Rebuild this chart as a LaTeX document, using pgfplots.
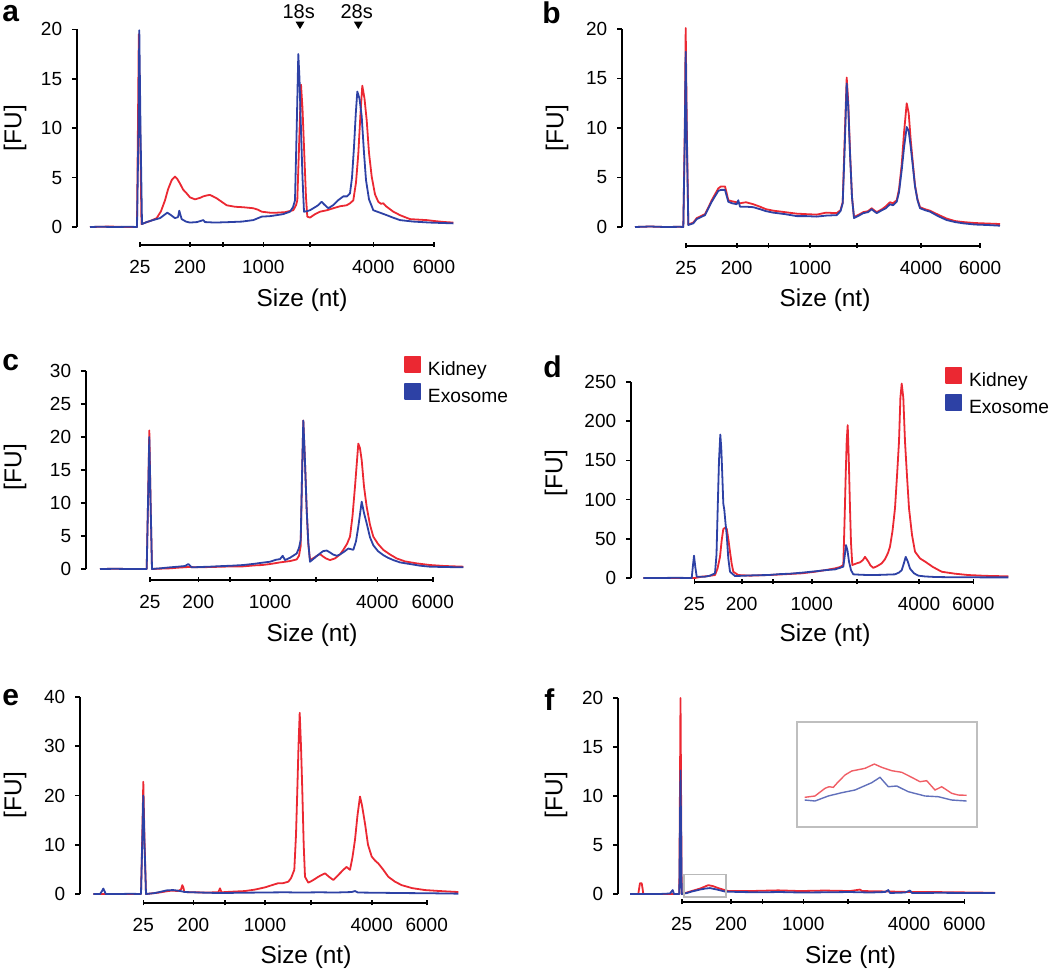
\documentclass[border=0pt]{standalone}
\usepackage{fontspec}
\setmainfont{Liberation Sans}
\usepackage{pgfplots}
\pgfplotsset{compat=1.18}
\definecolor{kred}{RGB}{235,40,50}
\definecolor{kblue}{RGB}{45,65,165}
\pgfplotsset{
  bio/.style={
    scale only axis, clip=false, anchor=south west,
    axis x line=bottom, axis y line=left,
    axis line style={draw=none},
    tick align=outside,
    major tick length=2.5pt,
    tick style={black, line width=0.8pt},
    xtick style={yshift=1.5pt},
    xticklabel style={font=\fontsize{9.5}{11}\selectfont, yshift=-1.6pt},
    yticklabel style={font=\fontsize{9.5}{11}\selectfont, xshift=-1.4pt},
    /pgf/number format/assume math mode=true,
    xticklabels={25,200,,1000,,4000,6000},
    every axis plot/.append style={line width=0.9pt, line join=round},
  },
  legsq/.style={
    legend style={at={(rel axis cs:#1)}, anchor=north west, draw=none, fill=none,
      inner sep=0pt, outer sep=0pt, font=\fontsize{9.6}{10}\selectfont,
      row sep=1.5pt, column sep=2.5pt, nodes={inner sep=0.8pt}},
    legend cell align=left,
    legend image code/.code={\fill[##1] (0pt,-1pt) rectangle (7.8pt,6.6pt);},
  },
}
\begin{document}
\begin{tikzpicture}
\path[use as bounding box] (0,0) rectangle (525pt,-485.5pt);
% ---------------- a
\begin{axis}[bio, at={(38.5pt,-122.5pt)}, width=189pt, height=107.85pt,
  xmin=77, xmax=455, ymin=-1.82, ymax=20, ytick={0,5,10,15,20},
  xtick={140,190,222.7,263.3,310,373.3,434}]
\addplot[kred] coordinates {(90,0)(110,0.05)(125,0)(137,0)(138.8,19.5)(141.5,0.3)(143.3,0.37)(150,0.6)(156.7,0.9)(161,1.6)(165,2.7)(168,3.8)(171.7,4.75)(175,5.1)(177,4.9)(180,4.4)(183,3.8)(186.7,3.4)(190,3.0)(195,2.8)(200,2.95)(203.3,3.1)(207,3.2)(210,3.25)(213,3.1)(216.7,2.9)(221,2.6)(226.7,2.2)(235,2.05)(243.3,2.0)(253.3,1.9)(258,1.75)(261.7,1.55)(270,1.45)(276.7,1.45)(285,1.5)(293.3,1.7)(296,2.2)(297.3,2.7)(299,8)(301,14.4)(302.5,12)(304,8.1)(306,3)(307.3,1.05)(310,0.95)(315,1.3)(320,1.55)(327,1.7)(333.3,1.9)(340,2.1)(346.7,2.2)(350,2.4)(353.3,2.7)(356,4.5)(358.3,7.4)(360.5,11.5)(362.3,14.3)(364.5,13)(366.7,10.8)(369,7.5)(371.7,5.1)(375,3.3)(378.3,2.55)(381,2.35)(383.3,2.4)(386,2.1)(390,1.8)(393.3,1.55)(400,1.2)(410,0.8)(418,0.75)(426.7,0.7)(435,0.6)(445,0.5)(453.3,0.45)};
\addplot[kblue] coordinates {(90,0)(100,0.03)(115,0)(130,0.03)(137,0)(138.5,10)(139.3,19.9)(140.5,10)(142,0.3)(146.7,0.5)(153,0.7)(160,0.9)(164,1.2)(167.3,1.45)(171,1.2)(175,0.9)(178,1.0)(179.3,1.65)(180.5,1.2)(181.7,0.8)(186,0.55)(190,0.45)(197,0.5)(203.3,0.7)(205,0.5)(215,0.45)(230,0.5)(242,0.55)(253.3,0.7)(261.7,1.05)(270,1.1)(276.7,1.2)(283,1.3)(290,1.55)(293,2.0)(295,2.7)(296.7,10)(298.3,17.5)(299.5,15)(300.7,10.8)(302.5,5)(304,1.55)(307,1.6)(310,1.7)(315,2.0)(318,2.2)(321.7,2.55)(324,2.3)(328.3,1.9)(333,2.2)(338,2.7)(343.3,3.1)(347,3.1)(350,3.4)(352,5)(354,8.1)(355.8,11.5)(357.3,13.7)(359.5,13)(361.7,11.2)(364,7.5)(366,4.75)(369,2.8)(373.3,1.7)(380,1.45)(386.7,1.2)(393,0.95)(400,0.7)(413.3,0.55)(430,0.45)(453.3,0.37)};
\draw[line width=0.9pt] (axis cs:77,0) -- (axis cs:77,20);
\draw[line width=0.9pt] (axis cs:140,-1.82) -- (axis cs:434,-1.82);
\end{axis}
% ---------------- b
\begin{axis}[bio, at={(311pt,-123pt)}, width=189pt, height=108.5pt,
  xmin=622, xmax=1000, ymin=-1.92, ymax=20, ytick={0,5,10,15,20},
  xtick={686,736.7,768.3,810,856.7,921,980}]
\addplot[kred] coordinates {(635,0)(650,0.05)(665,0)(680,0.02)(683.3,0)(684.8,10)(685.7,20.1)(686.8,10)(688.3,0.25)(693.3,0.45)(696.7,0.9)(700,1.05)(705,1.3)(708,1.9)(711.7,2.7)(715,3.3)(718.3,3.9)(721,4.1)(725,4.1)(726.5,3.5)(728.3,2.7)(732,2.6)(736.7,2.5)(740,2.4)(746,2.5)(753.3,2.3)(760,2.05)(766,1.8)(773.3,1.65)(785,1.5)(796.7,1.35)(806,1.3)(816.7,1.25)(826,1.45)(836.7,1.4)(840.5,1.7)(842.7,2.5)(844.7,9)(846.7,15.1)(848.3,12.5)(850,7.6)(852,3)(854,1.0)(858,1.2)(863.3,1.5)(868,1.6)(871.7,1.9)(874,1.7)(876.7,1.5)(882,1.8)(886,2.1)(890,2.5)(893,2.4)(896.7,2.7)(899,3.8)(901.7,6.3)(904,9.5)(906.7,12.5)(908.7,11.5)(910.7,8.8)(913,6.3)(915,4.2)(917.5,2.8)(920,2.0)(925,1.8)(930,1.65)(938,1.25)(946.7,0.85)(955,0.6)(963.3,0.5)(975,0.4)(988,0.35)(1000,0.3)};
\addplot[kblue] coordinates {(635,0)(650,0.05)(665,0)(680,0.02)(683.3,0)(684.8,9)(685.7,17.7)(686.8,9)(688.3,0.2)(693.3,0.37)(696.7,0.8)(700,0.95)(705,1.2)(708,1.8)(711.7,2.55)(715,3.1)(718.3,3.65)(721,3.75)(725,3.75)(726.5,3.2)(728.3,2.55)(732,2.4)(736.7,2.3)(738.3,2.7)(740,2.05)(746,2.05)(753.3,2.0)(760,1.8)(766,1.6)(773.3,1.45)(785,1.3)(796.7,1.1)(806,1.1)(816.7,1.05)(826,1.15)(836.7,1.2)(840.5,1.6)(842.7,2.4)(844.7,8)(846.7,14.5)(848.3,12)(850,7.4)(852,3)(854,0.9)(858,1.1)(863.3,1.4)(868,1.5)(871.7,1.8)(874,1.6)(876.7,1.4)(882,1.7)(886,1.9)(890,2.3)(893,2.2)(896.7,2.55)(899,3.5)(901.7,5.75)(904,8)(906.7,10.1)(908.7,9.7)(910.7,8.1)(913,6)(915,4.1)(917.5,2.7)(920,1.9)(925,1.7)(930,1.55)(938,1.1)(946.7,0.7)(955,0.5)(963.3,0.37)(975,0.25)(988,0.2)(1000,0.13)};
\draw[line width=0.9pt] (axis cs:622,0) -- (axis cs:622,20);
\draw[line width=0.9pt] (axis cs:686,-1.92) -- (axis cs:980,-1.92);
\end{axis}
% ---------------- c
\begin{axis}[bio, legsq={0.839,1.072}, at={(43pt,-290pt)}, width=189.5pt, height=104.5pt,
  xmin=86, xmax=465, ymin=-1.67, ymax=30, ytick={0,5,10,15,20,25,30},
  xtick={150,198.3,230,270,316,377.3,432.7}]
\addplot[kred] coordinates {(100,0)(115,0.03)(130,0)(146.7,0)(148,10)(149.3,21)(150.6,10)(152,0)(160,0.05)(170,0.1)(178,0.2)(188.3,0.3)(200,0.25)(210,0.3)(223.3,0.35)(232,0.4)(243.3,0.4)(255,0.55)(262,0.6)(270,0.75)(280,1.0)(290,1.2)(296.7,1.45)(299,2.0)(300.7,3.5)(302,14)(303.3,22.5)(304.8,17)(306.7,8.9)(308.3,3.8)(310,1.35)(314,1.7)(317,2.0)(320,2.25)(323,1.9)(326,1.6)(330,1.35)(335,1.6)(340,2.2)(343.3,2.9)(347,3.8)(350,4.9)(352.5,8)(355,12.5)(358.3,19)(360,18.3)(361.7,16.5)(364,12.5)(366.7,9.4)(370,6.7)(373.3,4.9)(378,3.8)(383.3,2.9)(390,2.2)(396.7,1.6)(405,1.15)(416.7,0.85)(430,0.6)(445,0.45)(463.3,0.35)};
\addlegendentry{Kidney}
\addplot[kblue] coordinates {(100,0)(115,0.03)(130,0)(146.7,0)(148,10)(149.3,20)(150.6,10)(152,0)(160,0.1)(170,0.25)(178,0.35)(185,0.45)(188.3,0.75)(191.7,0.25)(200,0.3)(210,0.35)(223.3,0.45)(232,0.5)(243.3,0.6)(255,0.8)(262,0.95)(270,1.1)(276,1.4)(280,1.5)(282.7,2.0)(285,1.35)(290,1.7)(296.7,2.35)(299,3.2)(300.7,4.4)(302,14)(303.3,22.5)(304.8,17)(306.7,8.9)(308.3,4)(310,1.1)(314,1.6)(317,2.0)(320,2.35)(323,2.7)(326.7,2.8)(330,2.5)(333,2.2)(336.7,2.0)(340,2.2)(344,2.6)(348.3,3.1)(351,3.0)(353.3,2.9)(356,4.2)(358.3,6.4)(361.7,10.2)(364,8.5)(366.7,6.9)(370,4.8)(373.3,3.6)(378,2.7)(383.3,2.1)(388,1.7)(393.3,1.35)(400,1.0)(410,0.75)(420,0.5)(430,0.35)(445,0.3)(463.3,0.25)};
\addlegendentry{Exosome}
\draw[line width=0.9pt] (axis cs:86,0) -- (axis cs:86,30);
\draw[line width=0.9pt] (axis cs:150,-1.67) -- (axis cs:432.7,-1.67);
\end{axis}
% ---------------- d
\begin{axis}[bio, legsq={0.8285,1.075}, at={(315.5pt,-291pt)}, width=189.5pt, height=100pt,
  xmin=631, xmax=1010, ymin=-5.1, ymax=250, ytick={0,50,100,150,200,250},
  xtick={694.3,741.7,772.7,811.7,856.7,919,973.3}]
\addplot[kred] coordinates {(643.3,0)(660,0)(680,0)(695,0)(701.7,1.7)(708,2.5)(715,3.8)(717.5,12)(720,27)(721.7,48)(723.3,62.5)(725,64)(726.7,63)(728.3,50)(730,33.6)(731.7,18)(733.3,8)(738.3,3.8)(750,3)(768.3,3.8)(780,4.5)(801.7,6)(815,8)(825,10)(835,12.3)(840,14)(843.3,16.6)(844.5,70)(845.7,131)(846.7,175)(847.7,195)(848.8,150)(850,89)(851,45)(852.3,16.6)(856.7,18.7)(860,20)(863,23)(865,27)(868.3,21)(870.5,16)(873.3,13)(877,15)(881.7,18.7)(885,24)(888,32)(890,40)(892.5,60)(895,89)(897,130)(899,174)(900.4,230)(901.7,248)(903.3,230)(905,174)(907,130)(909,89)(912,55)(915,33.6)(920,25)(925,21)(933,14)(941.7,8)(955,5.5)(968.3,3.8)(985,2.8)(1008.3,2.1)};
\addlegendentry{Kidney}
\addplot[kblue] coordinates {(643.3,0)(660,0)(675,0.3)(691.7,0)(692.8,14)(694,28.5)(695.3,14)(696.7,1.7)(705,1.7)(710,3)(715,6)(716.5,30)(717.7,89)(719,150)(720.3,183)(721.3,165)(722.3,131)(723.3,95)(724.3,87)(725.5,70)(726.7,55)(728.3,25)(730,8)(735,2.5)(745,3)(755,3.5)(768.3,3.8)(780,5)(790,5.5)(801.7,6.8)(815,8.5)(825,10)(835,11)(840,13)(843.3,14.5)(844.7,28)(846,42)(847.5,35)(849,21)(851,10)(853.3,4.7)(860,4.2)(868.3,3.8)(880,4)(895,4.7)(899,7)(901.7,10)(903.7,18)(905.7,27)(907.8,21)(910,12)(914,6)(918.3,3)(925,2)(935,1.3)(950,1)(970,0.9)(990,0.8)(1008.3,0.8)};
\addlegendentry{Exosome}
\draw[line width=0.9pt] (axis cs:631,0) -- (axis cs:631,250);
\draw[line width=0.9pt] (axis cs:694.3,-5.1) -- (axis cs:973.3,-5.1);
\end{axis}
% ---------------- e
\begin{axis}[bio, at={(40pt,-451.65pt)}, width=190pt, height=103.15pt,
  xmin=80, xmax=460, ymin=-1.89, ymax=40, ytick={0,10,20,30,40},
  xtick={143.3,193.3,225,265,311,371.7,426.7}]
\addplot[kred] coordinates {(93.3,0)(105,0)(120,0)(141,0)(142.2,11)(143.3,22.8)(144.5,11)(146,0)(158.3,0.27)(165,0.5)(171.7,0.7)(178,0.6)(181,0.9)(182.3,1.8)(183.3,1.4)(184.3,0.4)(195,0.35)(205,0.3)(218.3,0.35)(220,1.15)(221.5,0.35)(230,0.45)(245,0.6)(255,0.9)(265,1.35)(272,1.8)(278.3,2.2)(283,2.2)(288.3,2.5)(291,3.2)(294.3,4.9)(296,12)(297.3,21)(298.5,30)(299.7,36.8)(301,30)(302.3,21)(303.7,10)(305,3.5)(308.3,2.3)(313,2.8)(318.3,3.5)(321,3.8)(325,4.2)(329,3.5)(333.3,2.85)(338,3.8)(343.3,4.9)(346.5,5.5)(350,4.9)(352.5,7.5)(355,11)(357.5,16)(360,19.8)(362,18)(365,14.3)(368,10)(371.7,7.6)(375,6.8)(378.3,6.2)(383,5)(388.3,3.5)(395,2.5)(401.7,1.8)(412,1.2)(425,0.8)(440,0.6)(458.3,0.4)};
\addplot[kblue] coordinates {(93.3,0)(100,0)(102,0.6)(103.3,1.1)(104.5,0.6)(105.7,0)(120,0)(130,0.05)(141,0)(142.2,10)(143.3,20)(144.5,10)(146,0)(155,0.2)(161.7,0.5)(167,0.75)(173.3,0.8)(179,0.65)(185,0.4)(200,0.3)(218.3,0.2)(240,0.25)(260,0.3)(285,0.35)(300,0.3)(320,0.35)(335,0.3)(351.7,0.4)(355,0.6)(358,0.3)(380,0.25)(400,0.2)(430,0.15)(458.3,0.07)};
\draw[line width=0.9pt] (axis cs:80,0) -- (axis cs:80,40);
\draw[line width=0.9pt] (axis cs:143.3,-1.89) -- (axis cs:426.7,-1.89);
\end{axis}
% ---------------- f
\begin{axis}[bio, at={(309pt,-451pt)}, width=190pt, height=102pt,
  xmin=618, xmax=998, ymin=-0.82, ymax=20, ytick={0,5,10,15,20},
  xtick={681.7,731,762.3,803.3,847.7,909,964.3}]
\addplot[kred] coordinates {(630,0)(638.3,0)(639.5,0.8)(640,1.1)(641.7,1.1)(642.5,0.6)(643.3,0)(660,0)(679.3,0)(680.5,20)(681.7,0)(687,0.15)(691.7,0.3)(700,0.55)(708.3,0.9)(713,0.8)(718.3,0.6)(723,0.45)(728.3,0.3)(750,0.3)(778.3,0.37)(800,0.3)(825,0.35)(850,0.3)(860,0.45)(862,0.3)(890,0.25)(910,0.2)(930,0.2)(958.3,0.17)(995,0.12)};
\addplot[kblue] coordinates {(630,0)(645,0)(660,0)(670,0.05)(672.7,0.4)(674,0)(679.3,0)(680.5,12.6)(681.7,0)(687,0.1)(691.7,0.25)(700,0.45)(705,0.55)(710,0.6)(717,0.45)(725,0.25)(740,0.2)(758.3,0.17)(780,0.2)(800,0.15)(825,0.17)(850,0.2)(870,0.15)(885,0.2)(888.3,0.4)(890,0.1)(905,0.15)(910,0.35)(912,0.1)(940,0.12)(970,0.1)(995,0.1)};
\draw[line width=0.9pt] (axis cs:618,0) -- (axis cs:618,20);
\draw[line width=0.9pt] (axis cs:681.7,-0.82) -- (axis cs:964.3,-0.82);
\draw[gray!55, line width=0.8pt] (axis cs:684,-0.3) rectangle (axis cs:726,2.0);
\end{axis}
% ---------------- inset of f
\begin{axis}[at={(398.65pt,-413.35pt)}, anchor=south west, scale only axis,
  width=90pt, height=52.5pt, xmin=684, xmax=726, ymin=-0.3, ymax=2.0,
  xtick=\empty, ytick=\empty, axis line style={gray!50, line width=1pt}, clip=false]
\addplot[kred!75, line width=0.7pt] coordinates {(685.73,0.344)(688.13,0.373)(690.46,0.541)(691.39,0.576)(692.40,0.563)(693.57,0.686)(695.13,0.833)(696.69,0.920)(699.80,0.979)(701.97,1.073)(703.69,1.001)(706.03,0.927)(708.36,0.892)(710.69,0.782)(712.63,0.686)(714.19,0.708)(716.13,0.504)(717.69,0.576)(720.02,0.432)(721.56,0.394)(723.52,0.388)};
\addplot[kblue!75, line width=0.7pt] coordinates {(685.73,0.285)(688.13,0.263)(691.23,0.373)(694.36,0.445)(697.46,0.504)(701.36,0.664)(703.30,0.782)(705.23,0.576)(707.19,0.592)(709.90,0.467)(713.79,0.373)(716.90,0.357)(720.02,0.285)(723.52,0.263)};
\end{axis}
% ---------------- texts
\begin{scope}[x=0.5pt,y=-0.5pt]
\tikzset{plab/.style={font=\bfseries\fontsize{15}{15}\selectfont, anchor=base west, inner sep=0pt},
  fu/.style={font=\fontsize{12.2}{14}\selectfont, rotate=90, inner sep=0pt},
  sz/.style={font=\fontsize{12.2}{14}\selectfont, inner sep=0pt},
  ann/.style={font=\fontsize{10}{11}\selectfont, inner sep=0pt}}
\node[plab] at (2,21) {a};
\node[plab] at (542,23) {b};
\node[plab] at (2,370) {c};
\node[plab] at (543,377) {d};
\node[plab] at (2,705) {e};
\node[plab] at (544,710) {f};
\node[fu] at (15,128) {[FU]};
\node[fu] at (557,128) {[FU]};
\node[fu] at (15,467) {[FU]};
\node[fu] at (556,473) {[FU]};
\node[fu] at (15,795) {[FU]};
\node[fu] at (556,795) {[FU]};
\node[sz] at (302,300) {Size (nt)};
\node[sz] at (825,300) {Size (nt)};
\node[sz] at (312,635) {Size (nt)};
\node[sz] at (825,635) {Size (nt)};
\node[sz] at (306,957) {Size (nt)};
\node[sz] at (850.5,957) {Size (nt)};
\node[ann] at (298.7,12) {18s};
\node[ann] at (356.7,12) {28s};
\fill (295.5,21.5) -- (304.5,21.5) -- (300,29) -- cycle;
\fill (353.8,21.5) -- (362.8,21.5) -- (358.3,29) -- cycle;
\end{scope}
\end{tikzpicture}
\end{document}
